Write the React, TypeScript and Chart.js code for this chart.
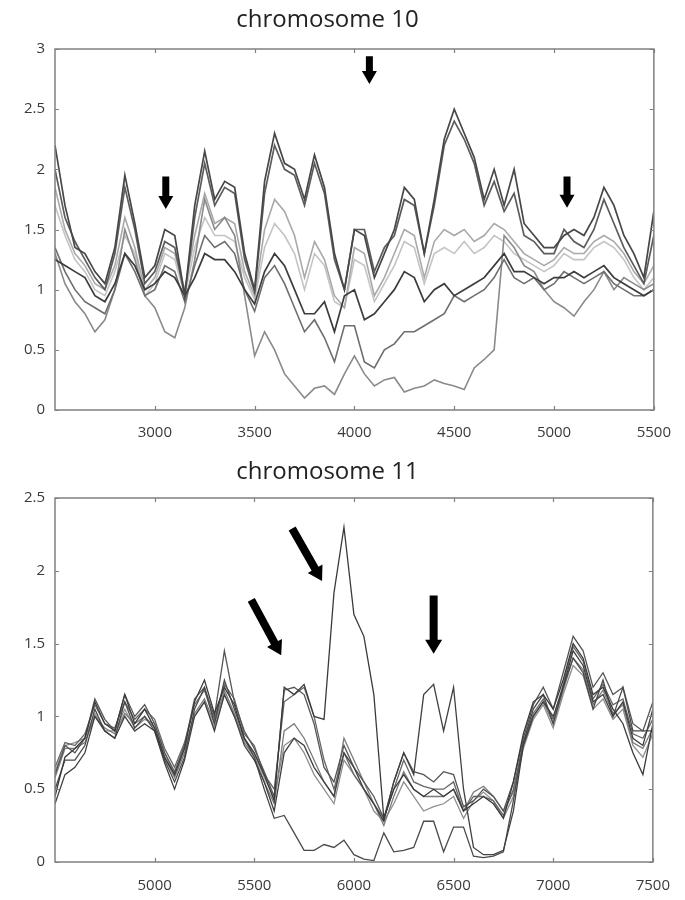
import React, { useEffect, useRef } from "react";
import { Chart, registerables } from "chart.js";

Chart.register(...registerables);

// ---------- chromosome 10 ----------
const chr10Positions = [
  2500, 2550, 2600, 2650, 2700, 2750, 2800, 2850, 2900, 2950,
  3000, 3050, 3100, 3150, 3200, 3250, 3300, 3350, 3400, 3450,
  3500, 3550, 3600, 3650, 3700, 3750, 3800, 3850, 3900, 3950,
  4000, 4050, 4100, 4150, 4200, 4250, 4300, 4350, 4400, 4450,
  4500, 4550, 4600, 4650, 4700, 4750, 4800, 4850, 4900, 4950,
  5000, 5050, 5100, 5150, 5200, 5250, 5300, 5350, 5400, 5450, 5500,
];
const chr10SampleA = [2.2,1.7,1.35,1.3,1.15,1.05,1.35,1.95,1.55,1.1,1.2,1.5,1.45,0.95,1.7,2.15,1.75,1.9,1.85,1.3,1.0,1.9,2.3,2.05,2.0,1.75,2.12,1.85,1.3,1.0,1.5,1.45,1.1,1.3,1.5,1.85,1.75,1.3,1.75,2.25,2.5,2.3,2.1,1.75,2.0,1.7,2.0,1.55,1.45,1.35,1.35,1.45,1.5,1.45,1.6,1.85,1.7,1.45,1.3,1.1,1.65];
const chr10SampleB = [2.0,1.6,1.4,1.25,1.1,1.0,1.3,1.85,1.5,1.05,1.15,1.4,1.35,0.95,1.6,2.05,1.7,1.85,1.8,1.25,0.98,1.8,2.2,2.0,1.95,1.7,2.05,1.8,1.25,1.0,1.5,1.5,1.15,1.35,1.45,1.75,1.7,1.3,1.7,2.2,2.4,2.25,2.05,1.7,1.9,1.65,1.8,1.45,1.4,1.3,1.3,1.5,1.4,1.35,1.5,1.75,1.55,1.35,1.2,1.05,1.45];
const chr10SampleC = [1.85,1.5,1.3,1.2,1.05,1.0,1.2,1.6,1.35,1.0,1.1,1.35,1.3,1.0,1.45,1.8,1.55,1.6,1.55,1.15,0.95,1.5,1.75,1.65,1.45,1.1,1.4,1.25,0.95,0.85,1.35,1.3,0.95,1.1,1.3,1.5,1.45,1.1,1.4,1.5,1.45,1.5,1.4,1.45,1.55,1.5,1.4,1.3,1.25,1.2,1.25,1.35,1.3,1.3,1.4,1.45,1.4,1.3,1.15,1.05,1.2];
const chr10SampleD = [1.7,1.45,1.25,1.15,1.0,0.95,1.15,1.45,1.3,0.95,1.05,1.3,1.25,0.95,1.35,1.6,1.45,1.45,1.4,1.1,0.92,1.35,1.55,1.45,1.3,1.0,1.3,1.2,0.9,0.85,1.25,1.2,0.9,1.05,1.2,1.4,1.35,1.05,1.3,1.35,1.3,1.4,1.3,1.35,1.45,1.4,1.3,1.25,1.2,1.15,1.2,1.3,1.25,1.25,1.35,1.4,1.35,1.25,1.1,1.0,1.1];
const chr10SampleE = [1.25,1.2,1.15,1.1,0.95,0.9,1.05,1.3,1.2,1.0,1.05,1.15,1.1,0.95,1.1,1.3,1.25,1.25,1.15,1.0,0.88,1.15,1.3,1.2,1.0,0.8,0.8,0.9,0.65,0.95,1.0,0.75,0.8,0.9,1.0,1.15,1.1,0.9,1.0,1.05,0.95,1.0,1.05,1.1,1.2,1.3,1.15,1.15,1.1,1.05,1.1,1.1,1.15,1.1,1.15,1.2,1.1,1.05,1.0,0.95,1.0];
const chr10SampleF = [1.35,1.15,1.0,0.9,0.85,0.8,1.0,1.3,1.15,0.95,1.0,1.2,1.15,0.9,1.2,1.45,1.35,1.4,1.3,1.0,0.82,1.1,1.2,1.05,0.85,0.65,0.75,0.6,0.4,0.7,0.7,0.4,0.35,0.5,0.55,0.65,0.65,0.7,0.75,0.8,0.95,0.9,0.95,1.0,1.1,1.25,1.1,1.05,1.1,1.0,1.05,1.15,1.1,1.05,1.1,1.15,1.05,1.0,0.95,0.95,1.0];
const chr10SampleG = [1.3,1.05,0.9,0.8,0.65,0.75,1.0,1.5,1.25,0.95,0.85,0.65,0.6,0.85,1.25,1.75,1.5,1.6,1.45,0.95,0.45,0.65,0.5,0.3,0.2,0.1,0.18,0.2,0.13,0.3,0.45,0.3,0.2,0.25,0.27,0.15,0.18,0.2,0.25,0.22,0.2,0.17,0.35,0.42,0.5,1.45,1.35,1.2,1.15,1.0,0.9,0.85,0.78,0.9,1.0,1.15,1.0,1.1,1.05,1.0,1.05];
const chr10XTicks = [3000, 3500, 4000, 4500, 5000, 5500];
const chr10YTicks = [0, 0.5, 1, 1.5, 2, 2.5, 3];
const chr10ArrowFromX = [3055, 4075, 5065];
const chr10ArrowFromY = [1.94, 2.94, 1.94];
const chr10ArrowToX = [3055, 4075, 5065];
const chr10ArrowToY = [1.67, 2.71, 1.68];

// ---------- chromosome 11 ----------
const chr11Positions = [
  4500, 4550, 4600, 4650, 4700, 4750, 4800, 4850, 4900, 4950,
  5000, 5050, 5100, 5150, 5200, 5250, 5300, 5350, 5400, 5450,
  5500, 5550, 5600, 5650, 5700, 5750, 5800, 5850, 5900, 5950,
  6000, 6050, 6100, 6150, 6200, 6250, 6300, 6350, 6400, 6450,
  6500, 6550, 6600, 6650, 6700, 6750, 6800, 6850, 6900, 6950,
  7000, 7050, 7100, 7150, 7200, 7250, 7300, 7350, 7400, 7450, 7500,
];
const chr11SampleP = [0.45,0.72,0.78,0.85,1.1,0.95,0.9,1.15,0.95,1.05,0.92,0.72,0.6,0.78,1.1,1.25,1.02,1.2,1.08,0.85,0.75,0.6,0.42,1.2,1.15,1.22,1.0,0.98,1.85,2.3,1.7,1.55,1.15,0.3,0.5,0.6,0.5,0.45,0.5,0.45,0.5,0.35,0.4,0.45,0.4,0.3,0.55,0.88,1.1,1.15,1.05,1.25,1.5,1.4,1.15,1.2,1.05,0.95,0.75,0.6,0.95];
const chr11SampleQ = [0.4,0.6,0.65,0.75,1.0,0.9,0.85,1.0,0.9,0.95,0.9,0.68,0.5,0.7,1.0,1.1,0.9,1.15,1.0,0.8,0.7,0.55,0.35,0.75,0.85,0.8,0.65,0.55,0.45,0.75,0.65,0.5,0.4,0.28,0.55,0.75,0.6,1.15,1.22,0.9,1.2,0.5,0.1,0.05,0.05,0.08,0.35,0.8,1.0,1.1,1.0,1.2,1.45,1.35,1.1,1.15,1.0,1.1,0.85,0.8,1.05];
const chr11SampleR = [0.5,0.7,0.7,0.8,1.05,0.9,0.85,1.1,0.92,1.0,0.9,0.7,0.55,0.72,1.05,1.2,0.95,1.25,1.05,0.85,0.72,0.5,0.3,0.32,0.2,0.08,0.08,0.12,0.1,0.15,0.05,0.02,0.01,0.2,0.07,0.08,0.1,0.28,0.28,0.07,0.24,0.24,0.04,0.03,0.04,0.07,0.42,0.82,1.05,1.15,0.95,1.2,1.4,1.3,1.05,1.25,1.0,1.2,0.9,0.9,0.9];
const chr11SampleS = [0.6,0.8,0.75,0.85,1.12,0.98,0.9,1.15,1.0,1.08,0.95,0.75,0.62,0.8,1.12,1.2,1.0,1.45,1.1,0.9,0.78,0.62,0.45,1.18,1.2,1.15,0.95,0.65,0.55,0.8,0.65,0.55,0.45,0.3,0.55,0.75,0.62,0.6,0.55,0.62,0.6,0.38,0.42,0.5,0.45,0.35,0.55,0.85,1.08,1.2,1.05,1.3,1.55,1.45,1.2,1.3,1.15,1.2,0.95,0.9,1.1];
const chr11SampleT = [0.65,0.82,0.8,0.88,1.08,0.95,0.92,1.1,0.98,1.05,0.98,0.78,0.65,0.82,1.08,1.18,0.98,1.22,1.12,0.88,0.8,0.6,0.5,1.1,1.15,1.2,1.0,0.7,0.5,0.75,0.6,0.5,0.4,0.3,0.5,0.7,0.55,0.52,0.5,0.5,0.55,0.35,0.45,0.45,0.42,0.32,0.5,0.82,1.02,1.12,0.98,1.22,1.48,1.38,1.12,1.22,1.08,1.12,0.88,0.85,0.98];
const chr11SampleU = [0.58,0.78,0.78,0.82,1.0,0.92,0.88,1.02,0.95,1.0,0.92,0.72,0.58,0.75,1.02,1.12,0.95,1.18,1.02,0.82,0.72,0.55,0.4,0.9,0.95,0.85,0.7,0.55,0.45,0.85,0.7,0.55,0.4,0.25,0.45,0.62,0.5,0.45,0.45,0.45,0.5,0.35,0.48,0.52,0.45,0.35,0.48,0.8,1.0,1.1,0.95,1.18,1.4,1.32,1.08,1.18,1.02,1.08,0.82,0.78,0.92];
const chr11SampleV = [0.62,0.8,0.82,0.85,1.02,0.9,0.9,1.05,0.92,0.98,0.95,0.75,0.6,0.78,1.0,1.1,0.92,1.15,1.0,0.84,0.74,0.58,0.44,0.8,0.85,0.75,0.6,0.5,0.4,0.7,0.6,0.5,0.35,0.28,0.4,0.55,0.45,0.35,0.38,0.4,0.45,0.3,0.42,0.48,0.42,0.3,0.45,0.78,0.98,1.08,0.92,1.15,1.35,1.28,1.05,1.12,0.98,1.05,0.8,0.72,0.88];
const chr11XTicks = [5000, 5500, 6000, 6500, 7000, 7500];
const chr11YTicks = [0, 0.5, 1, 1.5, 2, 2.5];
const chr11ArrowFromX = [5485, 5690, 6400];
const chr11ArrowFromY = [1.8, 2.29, 1.83];
const chr11ArrowToX = [5635, 5840, 6400];
const chr11ArrowToY = [1.42, 1.93, 1.43];

const FONT = "'Open Sans', 'Noto Sans', sans-serif";

type Series = { values: number[]; color: string; width: number };

const framePlugin = {
  id: "frameArrows",
  afterDatasetsDraw(chart: any, _args: any, opts: any) {
    const { ctx, chartArea } = chart;
    const { left, right, top, bottom } = chartArea;
    const xs = chart.scales.x;
    const ys = chart.scales.y;
    ctx.save();
    ctx.strokeStyle = "#808080";
    ctx.lineWidth = 1.5;
    ctx.strokeRect(left, top, right - left, bottom - top);
    ctx.lineWidth = 1.2;
    ctx.beginPath();
    xs.ticks.forEach((t: any) => {
      const px = Math.round(xs.getPixelForValue(t.value)) + 0.5;
      ctx.moveTo(px, bottom);
      ctx.lineTo(px, bottom - 4);
      ctx.moveTo(px, top);
      ctx.lineTo(px, top + 4);
    });
    ys.ticks.forEach((t: any) => {
      const py = Math.round(ys.getPixelForValue(t.value)) + 0.5;
      ctx.moveTo(left, py);
      ctx.lineTo(left + 4, py);
      ctx.moveTo(right, py);
      ctx.lineTo(right - 4, py);
    });
    ctx.stroke();

    const a = opts.arrows;
    ctx.fillStyle = "#000";
    for (let i = 0; i < a.fromX.length; i++) {
      const x0 = xs.getPixelForValue(a.fromX[i]);
      const y0 = ys.getPixelForValue(a.fromY[i]);
      const x1 = xs.getPixelForValue(a.toX[i]);
      const y1 = ys.getPixelForValue(a.toY[i]);
      const len = Math.hypot(x1 - x0, y1 - y0);
      const dx = (x1 - x0) / len;
      const dy = (y1 - y0) / len;
      const nx = -dy;
      const ny = dx;
      const sw = opts.shaft / 2;
      const hw = opts.head / 2;
      const hl = opts.headLen;
      const bx = x1 - dx * hl;
      const by = y1 - dy * hl;
      ctx.beginPath();
      ctx.moveTo(x0 + nx * sw, y0 + ny * sw);
      ctx.lineTo(bx + nx * sw, by + ny * sw);
      ctx.lineTo(bx + nx * hw, by + ny * hw);
      ctx.lineTo(x1, y1);
      ctx.lineTo(bx - nx * hw, by - ny * hw);
      ctx.lineTo(bx - nx * sw, by - ny * sw);
      ctx.lineTo(x0 - nx * sw, y0 - ny * sw);
      ctx.closePath();
      ctx.fill();
    }
    ctx.restore();
  },
};

function makeConfig(p: {
  title: string;
  positions: number[];
  series: Series[];
  xMin: number;
  xMax: number;
  yMax: number;
  xTicks: number[];
  yTicks: number[];
  arrows: any;
  titlePad: { top: number; bottom: number };
  xAxisHeight: number;
  xPad: number;
  arrowStyle: { shaft: number; head: number; headLen: number };
}) {
  return {
    type: "line" as const,
    data: {
      datasets: p.series.map((s, i) => ({
        label: "s" + i,
        data: p.positions.map((x, j) => ({ x, y: s.values[j] })),
        borderColor: s.color,
        borderWidth: s.width,
        pointRadius: 0,
        tension: 0,
        fill: false,
      })),
    },
    options: {
      responsive: false,
      animation: false,
      events: [],
      layout: { padding: { left: 0, right: 30, top: 0, bottom: 0 } },
      plugins: {
        legend: { display: false },
        tooltip: { enabled: false },
        title: {
          display: true,
          text: p.title,
          color: "#222",
          font: { family: FONT, size: 24, weight: "normal" as const },
          padding: p.titlePad,
        },
        frameArrows: { arrows: p.arrows, ...p.arrowStyle },
      },
      scales: {
        x: {
          type: "linear" as const,
          min: p.xMin,
          max: p.xMax,
          afterBuildTicks: (s: any) => {
            s.ticks = p.xTicks.map((v) => ({ value: v }));
          },
          afterFit: (s: any) => {
            s.height = p.xAxisHeight;
          },
          grid: { display: false, drawTicks: false },
          border: { display: false },
          ticks: {
            padding: p.xPad,
            color: "#3a3a3a",
            font: { family: FONT, size: 15 },
            maxRotation: 0,
            autoSkip: false,
            callback: (v: any) => String(v),
          },
        },
        y: {
          type: "linear" as const,
          min: 0,
          max: p.yMax,
          afterBuildTicks: (s: any) => {
            s.ticks = p.yTicks.map((v) => ({ value: v }));
          },
          afterFit: (s: any) => {
            s.width = 55;
          },
          grid: { display: false, drawTicks: false },
          border: { display: false },
          ticks: {
            padding: 10,
            color: "#3a3a3a",
            font: { family: FONT, size: 15 },
            autoSkip: false,
            callback: (v: any) => String(v),
          },
        },
      },
    },
    plugins: [framePlugin],
  };
}

function Panel(props: { config: any; top: number; height: number }) {
  const ref = useRef<HTMLCanvasElement | null>(null);
  useEffect(() => {
    if (!ref.current) return;
    const chart = new Chart(ref.current, props.config);
    return () => chart.destroy();
  }, []);
  return (
    <canvas
      ref={ref}
      width={685}
      height={props.height}
      style={{ position: "absolute", left: 0, top: props.top, width: 685, height: props.height }}
    />
  );
}

export default function App() {
  const top = makeConfig({
    title: "chromosome 10",
    positions: chr10Positions,
    series: [
      { values: chr10SampleA, color: "#474747", width: 1.7 },
      { values: chr10SampleB, color: "#5c5c5c", width: 1.7 },
      { values: chr10SampleE, color: "#3c3c3c", width: 1.7 },
      { values: chr10SampleF, color: "#6e6e6e", width: 1.6 },
      { values: chr10SampleG, color: "#8a8a8a", width: 1.6 },
      { values: chr10SampleC, color: "#a9a9a9", width: 1.6 },
      { values: chr10SampleD, color: "#c4c4c4", width: 1.6 },
    ],
    xMin: 2500,
    xMax: 5500,
    yMax: 3,
    xTicks: chr10XTicks,
    yTicks: chr10YTicks,
    arrows: { fromX: chr10ArrowFromX, fromY: chr10ArrowFromY, toX: chr10ArrowToX, toY: chr10ArrowToY },
    titlePad: { top: 5.6, bottom: 14.6 },
    xAxisHeight: 45,
    xPad: 14,
    arrowStyle: { shaft: 7, head: 15, headLen: 13 },
  });
  const bottom = makeConfig({
    title: "chromosome 11",
    positions: chr11Positions,
    series: [
      { values: chr11SampleP, color: "#3a3a3a", width: 1.3 },
      { values: chr11SampleQ, color: "#404040", width: 1.3 },
      { values: chr11SampleR, color: "#4a4a4a", width: 1.3 },
      { values: chr11SampleS, color: "#555555", width: 1.3 },
      { values: chr11SampleT, color: "#666666", width: 1.3 },
      { values: chr11SampleU, color: "#7a7a7a", width: 1.3 },
      { values: chr11SampleV, color: "#8e8e8e", width: 1.3 },
    ],
    xMin: 4500,
    xMax: 7500,
    yMax: 2.5,
    xTicks: chr11XTicks,
    yTicks: chr11YTicks,
    arrows: { fromX: chr11ArrowFromX, fromY: chr11ArrowFromY, toX: chr11ArrowToX, toY: chr11ArrowToY },
    titlePad: { top: 2.6, bottom: 11.6 },
    xAxisHeight: 38,
    xPad: 15,
    arrowStyle: { shaft: 8, head: 17, headLen: 14 },
  });
  return (
    <div style={{ position: "absolute", left: 0, top: 0, width: 685, height: 900, background: "#fff" }}>
      <Panel config={top} top={0} height={455} />
      <Panel config={bottom} top={455} height={445} />
    </div>
  );
}
